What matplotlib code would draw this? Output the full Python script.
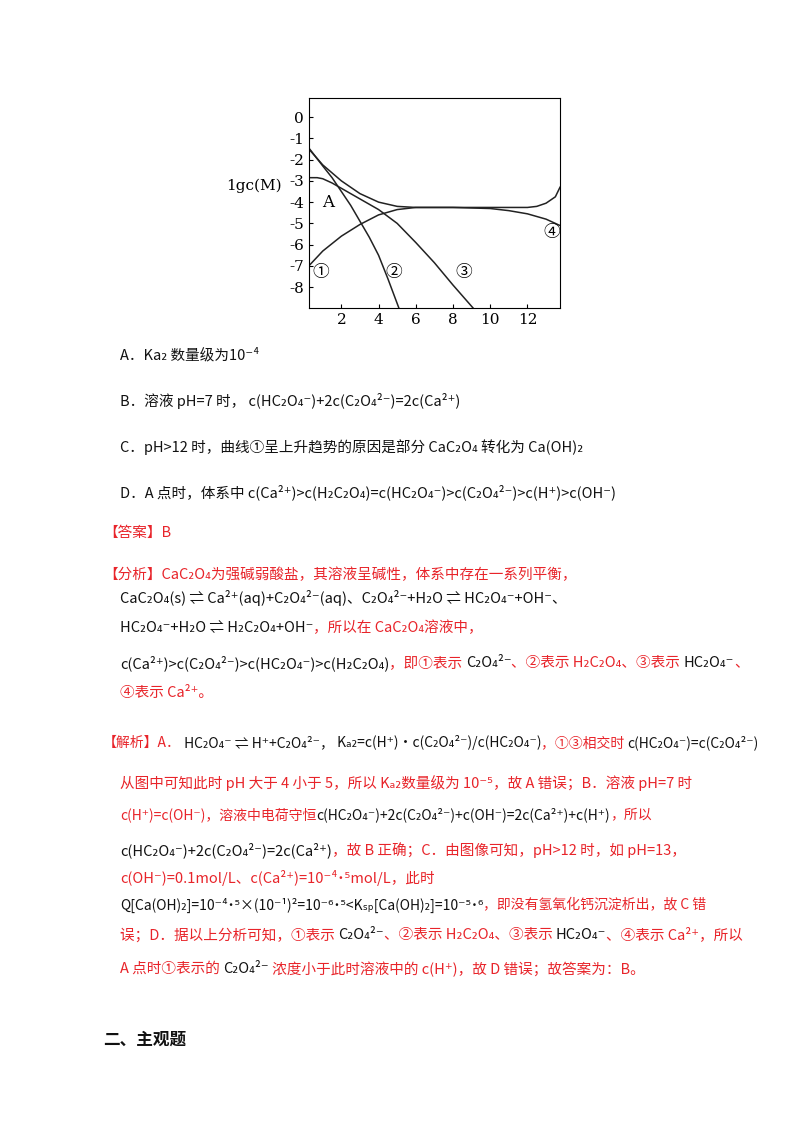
import matplotlib
matplotlib.use("Agg")
import matplotlib.pyplot as plt

plt.rcParams['font.family'] = ['Noto Sans CJK SC', 'DejaVu Sans']
plt.rcParams['axes.unicode_minus'] = False

# curve values (pH, lg c)
ph_1 = [0.25, 1, 2, 3, 4, 5, 6, 8, 10, 11, 12, 13, 13.75]
lgc_1 = [-7.0, -6.3, -5.6, -5.05, -4.6, -4.35, -4.25, -4.25, -4.3, -4.4, -4.55, -4.8, -5.1]
ph_2 = [0.25, 1, 1.5, 2, 2.5, 3, 3.5, 4, 4.5, 5.1]
lgc_2 = [-1.45, -2.3, -2.85, -3.5, -4.15, -4.9, -5.65, -6.5, -7.6, -9.0]
ph_3 = [0.25, 0.7, 1, 1.5, 2, 3, 4, 5, 6, 7, 8, 9.1]
lgc_3 = [-2.85, -2.85, -2.9, -3.1, -3.35, -3.85, -4.35, -5.0, -5.9, -6.85, -7.9, -9.0]
ph_4 = [0.25, 1, 2, 3, 4, 5, 6, 8, 10, 12, 12.5, 13, 13.5, 13.75]
lgc_4 = [-1.5, -2.25, -3.0, -3.6, -4.0, -4.2, -4.25, -4.25, -4.25, -4.25, -4.2, -4.05, -3.75, -3.3]
curve_labels = [("①", 0.9, -7.3), ("②", 4.8, -7.3), ("③", 8.6, -7.3), ("④", 13.3, -5.45), ("A", 1.3, -4.0)]

fig = plt.figure(figsize=(8, 11.32), dpi=100)
ax = fig.add_axes([0.386, 0.7275, 0.314, 0.186])
for xs, ys in [(ph_1, lgc_1), (ph_2, lgc_2), (ph_3, lgc_3), (ph_4, lgc_4)]:
    ax.plot(xs, ys, color='#222222', lw=1.1)
for s, x, y in curve_labels:
    ax.text(x, y, s, fontsize=12, ha='center', va='center', family=['DejaVu Serif', 'Noto Sans CJK SC'])
ax.set_xlim(0.25, 13.75)
ax.set_ylim(-9.0, 0.9)
ax.set_xticks([2, 4, 6, 8, 10, 12])
ax.set_yticks(range(0, -9, -1))
ax.tick_params(direction='in', labelsize=11, length=3)
for lbl in ax.get_xticklabels() + ax.get_yticklabels():
    lbl.set_family('DejaVu Serif')
fig.text(282 / 800, 1 - 186 / 1132, "1gc(M)", fontsize=11, family='DejaVu Serif', va='center', ha='right')

RED = '#e8242a'
BLK = '#111111'
renderer = fig.canvas.get_renderer()


def line(y_px, segs, x_px=120, size=10.5):
    x = x_px / 800
    for s, c in segs:
        t = fig.text(x, 1 - y_px / 1132, s, color=c, fontsize=size, va='center')
        bb = t.get_window_extent(renderer)
        x += bb.width / fig.bbox.width


line(355, [("A．Ka₂ 数量级为10⁻⁴", BLK)])
line(401, [("B．溶液 pH=7 时， c(HC₂O₄⁻)+2c(C₂O₄²⁻)=2c(Ca²⁺)", BLK)])
line(447, [("C．pH>12 时，曲线①呈上升趋势的原因是部分 CaC₂O₄ 转化为 Ca(OH)₂", BLK)])
line(492, [("D．A 点时，体系中 c(Ca²⁺)>c(H₂C₂O₄)=c(HC₂O₄⁻)>c(C₂O₄²⁻)>c(H⁺)>c(OH⁻)", BLK)])
line(533, [("【答案】B", RED)], x_px=103)
line(575, [("【分析】CaC₂O₄为强碱弱酸盐，其溶液呈碱性，体系中存在一系列平衡，", RED)], x_px=103)
line(598, [("CaC₂O₄(s) ⇌ Ca²⁺(aq)+C₂O₄²⁻(aq)、C₂O₄²⁻+H₂O ⇌ HC₂O₄⁻+OH⁻、", BLK)])
line(628, [("HC₂O₄⁻+H₂O ⇌ H₂C₂O₄+OH⁻", BLK), ("，所以在 CaC₂O₄溶液中，", RED)])
line(663, [("c(Ca²⁺)>c(C₂O₄²⁻)>c(HC₂O₄⁻)>c(H₂C₂O₄)", BLK),
           ("，即①表示 ", RED), ("C₂O₄²⁻", BLK), ("、②表示 H₂C₂O₄、③表示 ", RED),
           ("HC₂O₄⁻", BLK), ("、", RED)])
line(693, [("④表示 Ca²⁺。", RED)])
line(743, [("【解析】A．", RED), (" HC₂O₄⁻ ⇌ H⁺+C₂O₄²⁻，", BLK),
           (" Kₐ₂=c(H⁺)·c(C₂O₄²⁻)/c(HC₂O₄⁻)", BLK), ("，①③相交时 ", RED),
           ("c(HC₂O₄⁻)=c(C₂O₄²⁻)", BLK)], x_px=103, size=10)
line(783, [("从图中可知此时 pH 大于 4 小于 5，所以 Kₐ₂数量级为 10⁻⁵，故 A 错误；B．溶液 pH=7 时", RED)])
line(815, [("c(H⁺)=c(OH⁻)，溶液中电荷守恒", RED), ("c(HC₂O₄⁻)+2c(C₂O₄²⁻)+c(OH⁻)=2c(Ca²⁺)+c(H⁺)", BLK),
           ("，所以", RED)], size=10)
line(850, [("c(HC₂O₄⁻)+2c(C₂O₄²⁻)=2c(Ca²⁺)", BLK), ("，故 B 正确；C．由图像可知，pH>12 时，如 pH=13，", RED)])
line(878, [("c(OH⁻)=0.1mol/L、c(Ca²⁺)=10⁻⁴˙⁵mol/L，此时", RED)])
line(905, [("Q[Ca(OH)₂]=10⁻⁴˙⁵×(10⁻¹)²=10⁻⁶˙⁵<Kₛₚ[Ca(OH)₂]=10⁻⁵˙⁶", BLK),
           ("，即没有氢氧化钙沉淀析出，故 C 错", RED)], size=10)
line(935, [("误；D．据以上分析可知，①表示 ", RED), ("C₂O₄²⁻", BLK), ("、②表示 H₂C₂O₄、③表示 ", RED),
           ("HC₂O₄⁻", BLK), ("、④表示 Ca²⁺，所以", RED)])
line(969, [("A 点时①表示的 ", RED), ("C₂O₄²⁻", BLK), (" 浓度小于此时溶液中的 c(H⁺)，故 D 错误；故答案为：B。", RED)])
fig.text(103 / 800, 1 - 1040 / 1132, "二、主观题", fontsize=12, fontweight='bold', va='center', color=BLK)

fig.savefig("out.png", dpi=100)
